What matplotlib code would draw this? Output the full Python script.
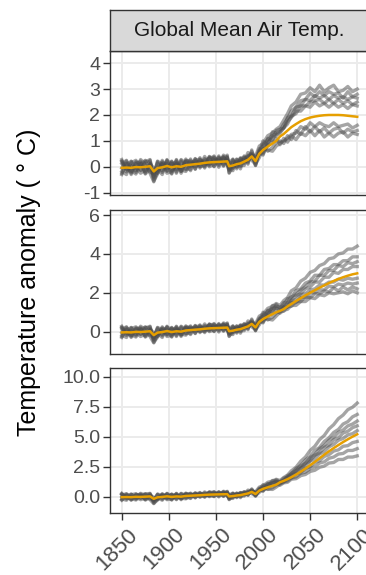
import matplotlib.pyplot as plt
import numpy as np
from matplotlib.transforms import ScaledTranslation

plt.rcParams["font.family"] = ["Liberation Sans", "DejaVu Sans"]

# shared historical period (same for all three scenarios)
hist_years = [1850, 1855, 1860, 1865, 1870, 1875, 1880, 1884, 1888, 1893, 1898, 1903, 1908,
              1913, 1918, 1923, 1928, 1933, 1938, 1943, 1948, 1953, 1958, 1962, 1964, 1968,
              1972, 1976, 1980, 1984, 1988, 1992, 1996, 2000, 2005, 2010, 2014]
hist_mean = [-0.04, -0.03, -0.04, -0.01, -0.02, 0.00, 0.02, -0.18, -0.05, -0.02, 0.03, -0.02, 0.02,
             0.00, 0.06, 0.08, 0.10, 0.12, 0.15, 0.17, 0.18, 0.19, 0.20, 0.21, 0.02, 0.05,
             0.10, 0.13, 0.20, 0.27, 0.40, 0.22, 0.50, 0.65, 0.78, 0.90, 1.00]
hist_members = [
    [0.20, -0.20, 0.15, 0.25, -0.15, 0.18, 0.28, -0.40, 0.15, -0.22, 0.22, -0.15, 0.25, -0.18, 0.30, 0.00, 0.32, 0.02, 0.40, 0.08, 0.42, 0.10, 0.45, 0.35, 0.00, 0.28, -0.02, 0.35, 0.20, 0.55, 0.45, 0.40, 0.80, 0.90, 1.20, 1.30, 1.45],
    [-0.25, 0.15, -0.30, 0.12, 0.22, -0.25, 0.12, -0.55, -0.28, 0.20, -0.18, 0.22, -0.20, 0.25, -0.12, 0.30, -0.10, 0.35, 0.00, 0.40, 0.02, 0.42, 0.05, 0.45, -0.22, -0.05, 0.30, 0.00, 0.42, 0.10, 0.65, 0.05, 0.55, 1.00, 0.80, 1.35, 1.30],
    [0.12, 0.25, -0.15, -0.28, 0.10, 0.25, -0.20, -0.28, 0.20, -0.15, 0.28, -0.25, 0.15, -0.18, 0.22, -0.15, 0.25, 0.30, -0.05, 0.35, 0.38, -0.02, 0.40, 0.05, -0.15, 0.25, 0.00, 0.30, 0.38, 0.15, 0.60, 0.30, 0.70, 0.55, 1.10, 1.00, 1.40],
    [-0.18, -0.30, 0.22, -0.05, -0.25, -0.12, 0.25, -0.48, -0.20, 0.25, -0.08, 0.15, -0.25, 0.20, -0.08, -0.10, 0.30, -0.05, 0.32, 0.00, 0.10, 0.38, 0.02, 0.40, -0.05, -0.15, 0.28, 0.05, 0.05, 0.45, 0.25, 0.10, 0.35, 0.70, 0.65, 0.60, 0.80],
    [0.28, -0.08, -0.20, 0.20, 0.12, -0.28, -0.08, -0.22, -0.08, -0.30, 0.25, 0.10, 0.20, -0.25, 0.20, 0.25, -0.08, 0.28, 0.12, 0.05, 0.35, 0.20, 0.35, 0.25, -0.25, 0.18, 0.20, -0.08, 0.35, 0.38, 0.45, 0.25, 0.60, 0.45, 0.95, 1.15, 1.20],
    [-0.30, 0.10, 0.20, -0.22, 0.28, 0.10, -0.25, -0.58, -0.12, 0.12, -0.25, -0.18, 0.12, -0.05, 0.25, 0.18, 0.00, 0.15, 0.25, 0.32, 0.00, 0.35, 0.10, 0.35, 0.15, 0.30, -0.08, 0.25, 0.30, 0.20, 0.48, 0.05, 0.62, 0.80, 0.60, 0.75, 0.95],
    [-0.05, 0.22, -0.25, 0.15, -0.12, 0.22, 0.18, -0.32, 0.22, 0.08, -0.15, 0.20, -0.12, 0.28, 0.12, 0.18, 0.22, 0.00, 0.05, 0.38, 0.28, 0.05, 0.30, 0.22, -0.10, 0.02, 0.22, 0.32, 0.12, 0.40, 0.52, 0.35, 0.45, 0.85, 1.05, 1.20, 1.25],
    [0.22, -0.12, 0.05, -0.15, 0.15, -0.20, 0.12, -0.05, -0.25, 0.15, 0.12, -0.28, 0.28, -0.12, -0.18, 0.12, 0.15, 0.22, 0.20, 0.12, 0.25, 0.28, 0.38, 0.05, 0.20, -0.05, 0.15, 0.22, 0.18, 0.28, 0.35, 0.15, 0.52, 0.50, 0.85, 0.95, 1.10],
]

# scenario period
fut_years = [2018, 2022, 2026, 2030, 2035, 2040, 2045, 2050, 2055, 2060, 2065, 2070, 2075,
             2080, 2085, 2090, 2095, 2100]

low_mean = [1.17, 1.27, 1.40, 1.53, 1.65, 1.76, 1.84, 1.90, 1.94, 1.97, 1.99, 2.00, 2.00, 2.00, 1.99, 1.97, 1.95, 1.93]
low_members = [
    [1.55, 1.80, 2.05, 2.35, 2.50, 2.80, 2.85, 3.05, 2.90, 3.15, 2.90, 3.05, 3.15, 2.90, 2.95, 3.10, 2.90, 3.00],
    [1.40, 1.65, 1.85, 2.15, 2.30, 2.55, 2.60, 2.85, 2.70, 2.90, 2.75, 2.90, 2.80, 2.85, 2.65, 2.90, 2.70, 2.80],
    [1.45, 1.50, 1.90, 1.95, 2.30, 2.35, 2.60, 2.55, 2.75, 2.65, 2.75, 2.60, 2.75, 2.65, 2.70, 2.60, 2.70, 2.65],
    [0.90, 1.00, 1.10, 1.25, 1.30, 1.55, 1.45, 1.70, 1.55, 1.70, 1.60, 1.55, 1.70, 1.55, 1.60, 1.65, 1.50, 1.60],
    [1.30, 1.50, 1.65, 1.95, 2.05, 2.35, 2.35, 2.50, 2.55, 2.60, 2.45, 2.60, 2.45, 2.60, 2.45, 2.55, 2.40, 2.50],
    [1.00, 0.90, 1.20, 1.05, 1.40, 1.25, 1.55, 1.35, 1.55, 1.35, 1.50, 1.30, 1.45, 1.50, 1.30, 1.45, 1.35, 1.40],
    [1.35, 1.50, 1.75, 1.90, 2.15, 2.15, 2.35, 2.30, 2.50, 2.35, 2.45, 2.30, 2.45, 2.30, 2.40, 2.25, 2.40, 2.35],
    [0.85, 1.10, 0.95, 1.20, 1.05, 1.30, 1.20, 1.40, 1.20, 1.40, 1.15, 1.30, 1.15, 1.30, 1.35, 1.15, 1.30, 1.25],
]

mid_mean = [1.07, 1.16, 1.30, 1.42, 1.58, 1.72, 1.87, 2.00, 2.13, 2.26, 2.38, 2.50, 2.61, 2.71, 2.80, 2.88, 2.95, 3.00]
mid_members = [
    [1.35, 1.60, 1.75, 2.10, 2.25, 2.60, 2.75, 3.05, 3.15, 3.40, 3.50, 3.75, 3.80, 4.00, 4.05, 4.25, 4.25, 4.40],
    [1.25, 1.35, 1.70, 1.75, 2.10, 2.20, 2.50, 2.60, 2.90, 2.90, 3.20, 3.25, 3.45, 3.45, 3.65, 3.65, 3.85, 3.85],
    [1.20, 1.50, 1.50, 1.80, 1.90, 2.15, 2.30, 2.55, 2.60, 2.90, 2.90, 3.15, 3.15, 3.40, 3.35, 3.55, 3.50, 3.60],
    [1.00, 1.25, 1.25, 1.50, 1.50, 1.75, 1.75, 2.00, 2.00, 2.15, 2.15, 2.35, 2.30, 2.45, 2.40, 2.50, 2.45, 2.50],
    [1.10, 1.25, 1.50, 1.60, 1.85, 1.95, 2.20, 2.30, 2.55, 2.55, 2.80, 2.80, 3.05, 3.00, 3.20, 3.20, 3.35, 3.35],
    [1.05, 1.05, 1.30, 1.30, 1.55, 1.55, 1.80, 1.75, 1.95, 1.95, 2.10, 2.05, 2.25, 2.10, 2.30, 2.15, 2.30, 2.20],
    [1.15, 1.30, 1.35, 1.60, 1.65, 1.90, 1.95, 2.15, 2.20, 2.40, 2.40, 2.55, 2.55, 2.70, 2.65, 2.75, 2.70, 2.75],
    [0.95, 1.10, 1.15, 1.35, 1.35, 1.55, 1.55, 1.75, 1.70, 1.90, 1.85, 2.00, 1.95, 2.00, 2.05, 1.95, 2.10, 2.00],
]

high_mean = [1.20, 1.32, 1.46, 1.62, 1.84, 2.08, 2.34, 2.62, 2.90, 3.20, 3.50, 3.78, 4.05, 4.30, 4.55, 4.78, 5.00, 5.20]
high_members = [
    [1.35, 1.60, 1.80, 2.15, 2.45, 2.95, 3.30, 3.85, 4.20, 4.75, 5.10, 5.65, 6.00, 6.50, 6.80, 7.25, 7.45, 7.80],
    [1.25, 1.40, 1.75, 1.90, 2.35, 2.60, 3.05, 3.35, 3.85, 4.10, 4.60, 4.90, 5.35, 5.60, 6.05, 6.25, 6.65, 6.85],
    [1.20, 1.55, 1.60, 1.95, 2.15, 2.55, 2.80, 3.25, 3.50, 4.00, 4.25, 4.70, 4.95, 5.35, 5.55, 5.90, 6.05, 6.30],
    [1.05, 1.20, 1.45, 1.55, 1.90, 2.00, 2.35, 2.50, 2.85, 3.00, 3.35, 3.50, 3.80, 3.90, 4.20, 4.25, 4.50, 4.60],
    [1.15, 1.30, 1.65, 1.75, 2.15, 2.35, 2.75, 3.00, 3.45, 3.65, 4.10, 4.30, 4.75, 4.90, 5.30, 5.45, 5.75, 5.90],
    [1.10, 1.25, 1.30, 1.55, 1.65, 1.95, 2.05, 2.35, 2.50, 2.80, 2.90, 3.20, 3.30, 3.55, 3.60, 3.85, 3.85, 4.00],
    [1.20, 1.35, 1.50, 1.80, 1.95, 2.35, 2.55, 2.95, 3.15, 3.55, 3.75, 4.15, 4.35, 4.70, 4.85, 5.15, 5.25, 5.50],
    [0.95, 1.15, 1.20, 1.45, 1.50, 1.75, 1.85, 2.10, 2.20, 2.45, 2.55, 2.80, 2.85, 3.10, 3.10, 3.30, 3.30, 3.40],
]

x_ticks = [1850, 1900, 1950, 2000, 2050, 2100]
panels = [
    (low_mean, low_members, [-1, 0, 1, 2, 3, 4], (-1.07, 4.47), "{:.0f}"),
    (mid_mean, mid_members, [0, 2, 4, 6], (-1.15, 6.26), "{:.0f}"),
    (high_mean, high_members, [0, 2.5, 5, 7.5, 10], (-1.36, 10.72), "{:.1f}"),
]

W, H = 366, 575
fig = plt.figure(figsize=(W / 100, H / 100), dpi=100)
x0, x1 = 110, 369
rows = [(51, 194.5), (210, 354), (368, 513)]
dark = "#333333"

years = np.array(hist_years + fut_years)
axes = []
for (mean, members, yt, ylim, fmt), (top, bot) in zip(panels, rows):
    ax = fig.add_axes([x0 / W, 1 - bot / H, (x1 - x0) / W, (bot - top) / H])
    for hm, fm in zip(hist_members, members):
        ax.plot(years, hm + fm, color="#4D4D4D", alpha=0.5, lw=2.4,
                solid_joinstyle="round")
    ax.plot(years, hist_mean + mean, color="#E69F00", lw=1.8)
    ax.set_xlim(1837.5, 2112.5)
    ax.set_ylim(*ylim)
    ax.set_yticks(yt)
    ax.set_yticklabels([fmt.format(v) for v in yt])
    ax.set_xticks(x_ticks)
    ax.grid(True, color="#EBEBEB", lw=1.4)
    ax.set_axisbelow(True)
    for s in ax.spines.values():
        s.set_color(dark)
        s.set_linewidth(1.0)
    ax.tick_params(axis="y", length=5, width=1.0, color=dark, labelsize=14,
                   labelcolor="#4D4D4D", pad=2)
    ax.tick_params(axis="x", length=0, labelbottom=False)
    axes.append(ax)

ax = axes[-1]
ax.tick_params(axis="x", length=5, width=1.0, color=dark, labelbottom=True, pad=3)
ax.set_xticklabels([str(v) for v in x_ticks], rotation=45, ha="right",
                   rotation_mode="anchor", fontsize=16, color="#4D4D4D")
shift = ScaledTranslation(5 / 100, 0, fig.dpi_scale_trans)
for lab in ax.get_xticklabels():
    lab.set_transform(lab.get_transform() + shift)

# facet strip
strip = fig.add_axes([x0 / W, 1 - 51 / H, (x1 - x0) / W, 41 / H])
strip.set_facecolor("#D9D9D9")
strip.set_xticks([])
strip.set_yticks([])
for s in strip.spines.values():
    s.set_color(dark)
    s.set_linewidth(1.0)
strip.text(0.5, 0.5, "Global Mean Air Temp.", ha="center", va="center",
           fontsize=15, color="#1A1A1A", transform=strip.transAxes)

fig.text(29 / W, 1 - 282 / H, "Temperature anomaly ( \u00b0 C)", rotation=90,
         ha="center", va="center", fontsize=18)

fig.savefig("out.png", dpi=100)
